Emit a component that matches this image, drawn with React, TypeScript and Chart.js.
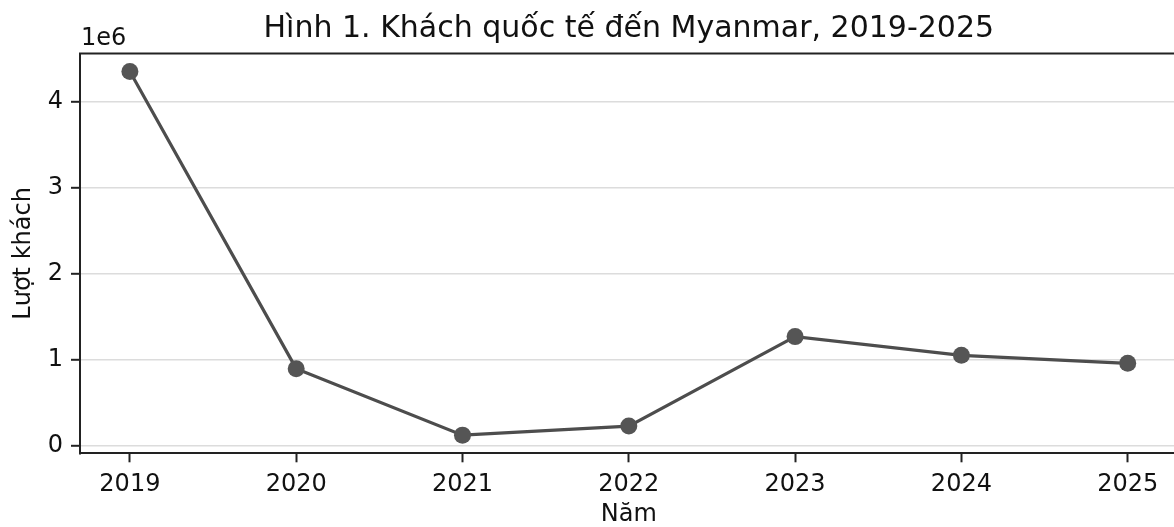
import React, { useEffect, useRef } from "react";
import { Chart, registerables } from "chart.js";

Chart.register(...registerables);

// ---- data ----
const years: number[] = [2019, 2020, 2021, 2022, 2023, 2024, 2025];
const visitors: number[] = [4350000, 900000, 128000, 233000, 1272000, 1055000, 962000];
const yTickMillions: number[] = [0, 1, 2, 3, 4];
const titleText = "Hình 1. Khách quốc tế đến Myanmar, 2019-2025";
const xAxisLabel = "Năm";
const yAxisLabel = "Lượt khách";
const offsetLabel = "1e6";

const FONT = "'DejaVu Sans', 'Noto Sans', sans-serif";
const CANVAS_W = 1258;
const CANVAS_H = 527;

export default function App() {
  const ref = useRef<HTMLCanvasElement | null>(null);

  useEffect(() => {
    document.body.style.margin = "0";
    const canvas = ref.current;
    if (!canvas) return;

    const spinePlugin = {
      id: "spineAndOffset",
      afterDraw(chart: any) {
        const { ctx, chartArea } = chart;
        ctx.save();
        ctx.strokeStyle = "#222";
        ctx.lineWidth = 2;
        ctx.beginPath();
        ctx.moveTo(chartArea.left - 1, chartArea.top);
        ctx.lineTo(chartArea.right, chartArea.top);
        ctx.stroke();
        ctx.font = `24px ${FONT}`;
        ctx.fillStyle = "#111";
        ctx.textAlign = "left";
        ctx.textBaseline = "alphabetic";
        ctx.fillText(offsetLabel, chartArea.left + 1, chartArea.top - 8.5);
        ctx.restore();
      },
    };

    const chart = new Chart(canvas, {
      type: "line",
      data: {
        datasets: [
          {
            data: years.map((x, i) => ({ x, y: visitors[i] })),
            borderColor: "#4d4d4d",
            backgroundColor: "#4d4d4d",
            borderWidth: 3.2,
            pointRadius: 8.5,
            pointBackgroundColor: "#555555",
            pointBorderWidth: 0,
            pointHoverRadius: 8.5,
            tension: 0,
          },
        ],
      },
      options: {
        animation: false,
        responsive: false,
        devicePixelRatio: 1,
        layout: { padding: { left: 0, right: 80.4, top: 0, bottom: 0 } },
        plugins: {
          legend: { display: false },
          tooltip: { enabled: false },
          title: {
            display: true,
            fullSize: false,
            text: titleText,
            color: "#111",
            font: { family: FONT, size: 30, weight: "normal", lineHeight: 1.2 },
            padding: { top: 11, bottom: 6.5 },
          },
        },
        scales: {
          x: {
            type: "linear",
            min: 2018.7,
            max: 2025.3,
            afterBuildTicks: (scale: any) => {
              scale.ticks = years.map((v) => ({ value: v }));
            },
            afterFit: (scale: any) => {
              scale.height = 73.7;
            },
            ticks: {
              color: "#111",
              font: { family: FONT, size: 24, lineHeight: 1.2 },
              padding: 8.3,
              maxRotation: 0,
              autoSkip: false,
              callback: (v: any) => String(v),
            },
            grid: {
              drawOnChartArea: false,
              drawTicks: true,
              tickLength: 9,
              tickWidth: 2,
              tickColor: "#222",
            },
            border: { display: true, color: "#222", width: 2 },
            title: {
              display: true,
              text: xAxisLabel,
              color: "#111",
              font: { family: FONT, size: 24, lineHeight: 1 },
              padding: { top: 0, bottom: 0 },
            },
          },
          y: {
            type: "linear",
            min: -83000,
            max: 4560000,
            afterBuildTicks: (scale: any) => {
              scale.ticks = yTickMillions.map((v) => ({ value: v * 1e6 }));
            },
            afterFit: (scale: any) => {
              scale.width = 80;
            },
            ticks: {
              color: "#111",
              font: { family: FONT, size: 24, lineHeight: 1.2 },
              padding: 8,
              callback: (v: any) => String(Math.round(Number(v) / 1e6)),
            },
            grid: {
              color: "#dcdcdc",
              lineWidth: 1.6,
              drawTicks: true,
              tickLength: 9,
              tickWidth: 2,
              tickColor: "#222",
            },
            border: { display: true, color: "#222", width: 2 },
            title: {
              display: true,
              text: yAxisLabel,
              color: "#111",
              font: { family: FONT, size: 24, lineHeight: 1 },
              padding: { top: 11.6, bottom: 0 },
            },
          },
        },
      },
      plugins: [spinePlugin],
    } as any);

    return () => {
      chart.destroy();
    };
  }, []);

  return (
    <div style={{ width: 1174, height: CANVAS_H, overflow: "hidden", position: "relative", background: "#fff" }}>
      <canvas
        ref={ref}
        width={CANVAS_W}
        height={CANVAS_H}
        style={{ width: CANVAS_W, height: CANVAS_H, display: "block" }}
      />
    </div>
  );
}
